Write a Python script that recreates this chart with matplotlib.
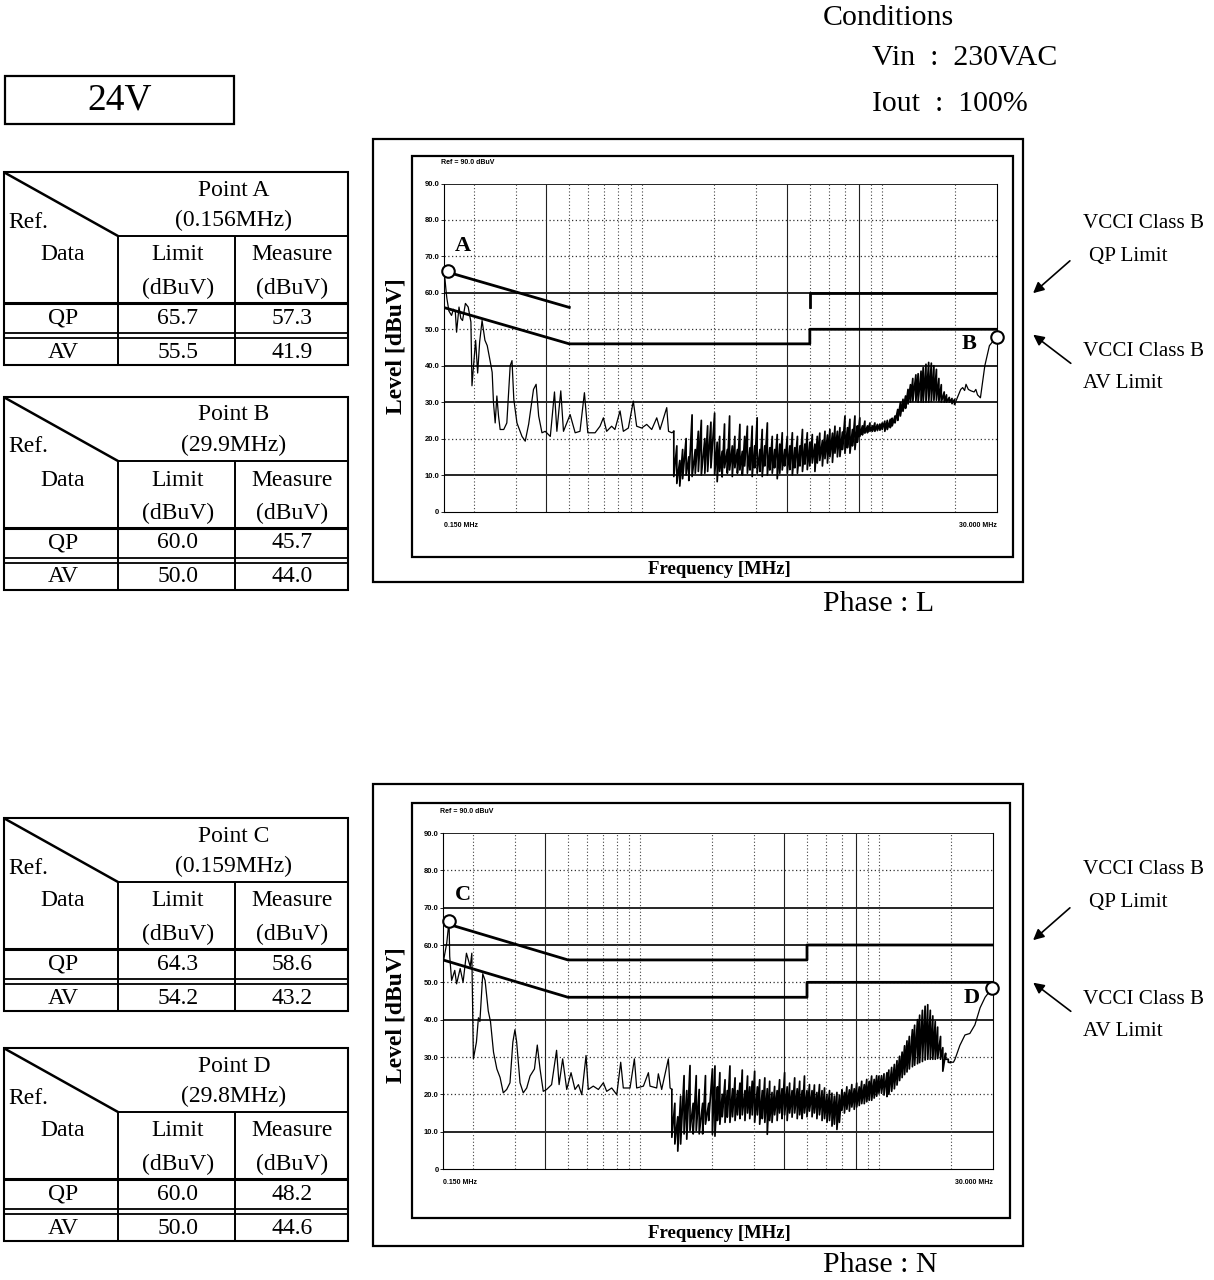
import numpy as np
import matplotlib
matplotlib.use("Agg")
import matplotlib.pyplot as plt
from matplotlib.patches import Rectangle, FancyArrowPatch
from matplotlib.ticker import NullLocator

# ---------------------------------------------------------------------------
# Conducted emission sweeps, 24V output, Vin 230VAC, Iout 100 %
# frequencies in MHz, levels in dBuV
# ---------------------------------------------------------------------------

# Phase L : low band (single sweep line)
L_LOW_F = [0.150, 0.152, 0.154, 0.155, 0.158, 0.162, 0.165, 0.168, 0.170, 0.174,
           0.177, 0.180, 0.185, 0.190, 0.195, 0.197, 0.200, 0.204, 0.208, 0.212,
           0.217, 0.223, 0.228, 0.235, 0.239, 0.242, 0.246, 0.250, 0.254, 0.258,
           0.267, 0.275, 0.284, 0.289, 0.294, 0.303, 0.318, 0.328, 0.339, 0.355,
           0.364, 0.373, 0.385, 0.397, 0.417, 0.434, 0.444, 0.461, 0.473, 0.504,
           0.529, 0.554, 0.578, 0.597, 0.640, 0.671, 0.693, 0.715, 0.750, 0.774,
           0.813, 0.839, 0.880, 0.923, 0.953, 1.000, 1.049, 1.101, 1.155, 1.192,
           1.271, 1.293, 1.335]
L_LOW_V = [58.0, 64.0, 60.0, 58.4, 55.0, 53.8, 55.5, 54.7, 49.2, 56.1,
           53.0, 52.4, 57.1, 56.1, 52.0, 34.5, 40.0, 47.0, 38.0, 46.5,
           52.4, 47.0, 45.5, 40.9, 38.2, 29.9, 24.3, 31.7, 26.2, 22.5,
           22.5, 24.3, 40.0, 41.4, 30.8, 24.3, 20.6, 19.3, 24.0, 33.5,
           34.9, 26.2, 21.6, 22.0, 20.6, 32.8, 22.0, 33.1, 22.0, 26.6,
           21.6, 22.0, 32.6, 21.6, 21.6, 23.4, 25.7, 22.0, 23.4, 22.5,
           27.6, 22.0, 22.9, 30.3, 23.4, 22.9, 23.9, 22.5, 25.7, 22.5,
           28.5, 22.0, 21.6]

# Shared frequency grid of the dense (broadband) part of both sweeps
NOISE_F = [1.36, 1.40, 1.44, 1.48, 1.53, 1.57, 1.62, 1.67, 1.72, 1.77,
           1.83, 1.88, 1.94, 2.01, 2.06, 2.11, 2.16, 2.21, 2.27, 2.32,
           2.38, 2.44, 2.50, 2.56, 2.62, 2.68, 2.75, 2.82, 2.88, 2.95,
           3.02, 3.10, 3.17, 3.25, 3.33, 3.41, 3.49, 3.57, 3.66, 3.75,
           3.84, 3.93, 4.03, 4.13, 4.23, 4.33, 4.44, 4.55, 4.66, 4.77,
           4.88, 5.00, 5.12, 5.25, 5.37, 5.50, 5.64, 5.78, 5.92, 6.06,
           6.21, 6.36, 6.51, 6.67, 6.83, 7.00, 7.17, 7.34, 7.52, 7.70,
           7.88, 8.07, 8.27, 8.47, 8.68, 8.89, 9.10, 9.32, 9.55, 9.78,
           10.0, 10.25, 10.5, 10.8, 11.0, 11.3, 11.6, 11.9, 12.2, 12.5,
           12.8, 13.1, 13.4, 13.8, 14.1, 14.5, 14.8, 15.2, 15.6, 16.0,
           16.4, 16.8, 17.2, 17.6, 18.1, 18.5, 19.0, 19.5, 20.0]

# Phase L : upper / lower excursion of the sweep on NOISE_F
L_NOISE_HI = [22.0, 18.0, 14.0, 17.0, 20.0, 15.0, 26.5, 17.0, 22.0, 25.0,
              20.0, 23.5, 24.5, 27.0, 19.0, 20.6, 16.5, 24.0, 17.0, 26.2,
              18.0, 20.6, 17.0, 23.9, 16.5, 20.6, 23.4, 17.5, 23.4, 18.0,
              25.7, 17.0, 22.5, 18.0, 24.3, 17.5, 20.6, 17.0, 21.1, 18.5,
              21.6, 17.0, 20.6, 18.0, 21.6, 17.5, 20.6, 18.0, 22.5, 18.5,
              21.6, 19.0, 21.1, 18.5, 20.6, 21.5, 19.5, 22.0, 21.0, 22.5,
              21.5, 23.4, 22.0, 23.0, 21.8, 26.2, 23.0, 25.3, 22.5, 26.2,
              23.5, 25.7, 23.5, 24.8, 23.5, 24.3, 23.5, 24.3, 23.9, 24.0,
              24.3, 24.8, 25.0, 25.3, 25.6, 26.2, 28.0, 29.9, 30.8, 31.7,
              33.5, 34.8, 36.5, 37.5, 37.8, 38.5, 39.5, 40.4, 40.9, 40.7,
              40.0, 39.0, 36.5, 34.8, 32.8, 32.0, 31.3, 31.0, 30.8]
L_NOISE_LO = [9.6, 7.7, 7.0, 9.0, 10.0, 8.5, 9.6, 10.5, 11.0, 10.0,
              10.5, 11.0, 12.0, 10.0, 8.2, 11.0, 9.5, 12.0, 10.5, 11.4,
              9.6, 12.0, 10.5, 11.4, 10.0, 12.5, 10.5, 11.4, 9.6, 12.0,
              10.5, 11.0, 9.6, 12.5, 10.0, 11.4, 10.5, 12.0, 9.0, 10.5,
              11.4, 12.5, 10.5, 11.5, 10.0, 12.0, 10.5, 12.5, 11.0, 13.0,
              11.5, 12.5, 13.3, 11.0, 13.3, 14.0, 12.5, 14.5, 13.3, 15.0,
              13.5, 16.0, 15.0, 15.1, 17.0, 16.0, 17.5, 16.0, 18.0, 17.0,
              19.0, 20.6, 21.0, 21.5, 21.6, 22.0, 22.0, 22.0, 22.2, 22.3,
              22.5, 22.0, 22.5, 23.0, 23.5, 24.3, 25.0, 26.2, 27.5, 28.3,
              29.5, 30.0, 30.2, 30.3, 30.0, 30.0, 30.0, 30.0, 30.0, 30.2,
              30.5, 30.5, 30.2, 30.0, 30.0, 30.0, 30.0, 29.6, 29.4]

# Phase L : top of the band up to 30 MHz
L_TAIL_F = [20.6, 21.2, 21.6, 22.0, 22.3, 22.8, 23.4, 24.1, 24.5, 24.9, 25.6, 26.7, 27.9, 29.9]
L_TAIL_V = [31.5, 33.5, 34.0, 33.2, 34.9, 33.5, 33.1, 32.8, 33.5, 32.0, 31.2, 40.0, 45.5, 48.0]

# Phase N : low band (single sweep line)
N_LOW_F = [0.150, 0.1555, 0.159, 0.160, 0.163, 0.168, 0.171, 0.177, 0.182, 0.188,
           0.195, 0.198, 0.201, 0.207, 0.211, 0.214, 0.220, 0.225, 0.232, 0.237,
           0.244, 0.252, 0.260, 0.268, 0.277, 0.286, 0.294, 0.300, 0.305, 0.315,
           0.325, 0.336, 0.347, 0.362, 0.372, 0.382, 0.394, 0.407, 0.427, 0.448,
           0.459, 0.475, 0.494, 0.515, 0.535, 0.553, 0.571, 0.595, 0.608, 0.638,
           0.670, 0.703, 0.726, 0.762, 0.800, 0.831, 0.852, 0.909, 0.948, 0.969,
           1.034, 1.085, 1.102, 1.175, 1.194, 1.233, 1.315, 1.337]
N_LOW_V = [55.0, 60.5, 66.4, 57.0, 50.5, 53.2, 49.6, 53.7, 50.0, 57.8,
           54.2, 57.8, 29.5, 34.0, 40.5, 39.5, 52.3, 50.5, 42.3, 39.5,
           31.3, 26.8, 24.5, 20.4, 21.3, 23.1, 34.0, 37.3, 34.0, 23.1,
           20.4, 21.7, 24.9, 26.8, 33.2, 26.8, 20.8, 21.3, 22.6, 31.8,
           22.6, 29.5, 21.3, 25.8, 21.3, 22.6, 19.9, 30.4, 21.3, 22.2,
           21.3, 23.1, 20.8, 21.7, 19.9, 28.6, 21.7, 21.7, 29.5, 21.7,
           22.2, 25.8, 22.2, 21.7, 25.5, 21.3, 29.5, 21.7]

# Phase N : upper / lower excursion of the sweep on NOISE_F
N_NOISE_HI = [21.3, 17.6, 14.0, 19.5, 25.0, 21.0, 27.7, 17.6, 25.0, 21.3,
              17.6, 25.0, 17.6, 26.8, 27.6, 22.0, 25.8, 20.0, 23.9, 21.0,
              27.6, 21.5, 24.4, 21.0, 23.0, 26.5, 21.0, 24.9, 22.0, 23.5,
              26.2, 22.0, 23.9, 21.0, 24.4, 21.5, 23.5, 20.5, 22.1, 21.0,
              23.9, 21.5, 25.8, 22.0, 23.0, 21.0, 24.4, 21.5, 23.5, 21.0,
              24.9, 21.0, 22.6, 21.0, 22.5, 20.5, 22.6, 21.0, 21.7, 20.0,
              21.0, 20.3, 19.5, 20.5, 19.8, 21.2, 20.5, 22.0, 21.2, 22.6,
              21.5, 23.0, 22.0, 23.5, 22.6, 24.0, 23.5, 24.9, 24.0, 25.0,
              24.9, 25.0, 25.5, 25.8, 26.5, 27.2, 28.0, 29.0, 30.2, 31.3,
              33.0, 34.3, 35.5, 37.3, 38.5, 40.0, 41.2, 42.5, 43.6, 44.0,
              42.5, 41.0, 39.5, 38.0, 35.5, 32.5, 31.0, 29.4, 28.5]
N_NOISE_LO = [8.5, 6.7, 4.8, 6.7, 9.4, 8.0, 10.3, 9.4, 10.3, 9.4,
              9.4, 12.0, 13.0, 9.3, 8.8, 13.0, 12.0, 14.0, 12.5, 13.9,
              12.5, 14.0, 13.0, 14.5, 13.5, 14.5, 13.0, 15.0, 13.5, 14.5,
              12.5, 14.5, 12.0, 13.5, 12.5, 9.3, 13.0, 12.5, 14.5, 13.0,
              15.0, 13.5, 14.5, 13.0, 15.0, 13.9, 15.0, 13.5, 14.5, 13.5,
              15.0, 14.0, 15.5, 14.0, 15.0, 13.5, 14.5, 13.0, 13.5, 12.5,
              13.0, 11.5, 12.0, 10.6, 12.5, 15.7, 15.0, 16.0, 15.5, 16.6,
              16.0, 16.6, 17.0, 17.5, 17.5, 18.0, 18.4, 18.4, 19.0, 19.5,
              20.3, 20.3, 19.8, 19.4, 20.0, 20.8, 21.5, 22.5, 23.7, 24.5,
              25.3, 26.0, 26.8, 27.4, 27.8, 28.2, 28.5, 28.8, 29.2, 29.4,
              29.4, 29.4, 29.4, 29.6, 29.4, 26.2, 29.4, 28.6, 28.6]

# Phase N : top of the band up to 30 MHz
N_TAIL_F = [20.5, 20.8, 21.8, 22.9, 24.0, 25.2, 26.5, 27.8, 29.8]
N_TAIL_V = [28.6, 29.4, 33.1, 35.9, 36.3, 38.6, 43.2, 46.0, 48.5]

# VCCI Class B limits
QP_LIMIT_F = [0.15, 0.50, 5.0, 5.0, 30.0]
QP_LIMIT_V = [66.0, 56.0, 56.0, 60.0, 60.0]
AV_LIMIT_F = [0.15, 0.50, 5.0, 5.0, 30.0]
AV_LIMIT_V = [56.0, 46.0, 46.0, 50.0, 50.0]

# Marked points
L_MARK_NAMES = ["A", "B"]
L_MARK_F = [0.156, 29.9]
L_MARK_V = [66.0, 48.0]
N_MARK_NAMES = ["C", "D"]
N_MARK_F = [0.159, 29.8]
N_MARK_V = [66.4, 48.5]

# Result tables
POINT_NAMES = ["Point A", "Point B", "Point C", "Point D"]
POINT_FREQS = ["(0.156MHz)", "(29.9MHz)", "(0.159MHz)", "(29.8MHz)"]
QP_LIMIT_TAB = ["65.7", "60.0", "64.3", "60.0"]
QP_MEAS_TAB = ["57.3", "45.7", "58.6", "48.2"]
AV_LIMIT_TAB = ["55.5", "50.0", "54.2", "50.0"]
AV_MEAS_TAB = ["41.9", "44.0", "43.2", "44.6"]

Y_TICKS = [0, 10, 20, 30, 40, 50, 60, 70, 80, 90]
Y_TICK_LABELS = ["0", "10.0", "20.0", "30.0", "40.0", "50.0", "60.0", "70.0", "80.0", "90.0"]
GRID_F = [0.2, 0.3, 0.4, 0.5, 0.6, 0.7, 0.8, 0.9, 1.0, 2.0, 3.0, 4.0, 5.0,
          6.0, 7.0, 8.0, 9.0, 10.0, 20.0]

for a, b in [(L_LOW_F, L_LOW_V), (N_LOW_F, N_LOW_V), (NOISE_F, L_NOISE_HI),
             (NOISE_F, L_NOISE_LO), (NOISE_F, N_NOISE_HI), (NOISE_F, N_NOISE_LO),
             (L_TAIL_F, L_TAIL_V), (N_TAIL_F, N_TAIL_V)]:
    assert len(a) == len(b)

# ---------------------------------------------------------------------------
W, H = 1214, 1280
SERIF = "Liberation Serif"
SANS = "Liberation Sans"

fig = plt.figure(figsize=(W / 100, H / 100), dpi=100)
fig.patch.set_facecolor("white")
canvas = fig.add_axes([0, 0, 1, 1])
canvas.set_xlim(0, W)
canvas.set_ylim(H, 0)
canvas.axis("off")


def seg(x0, y0, x1, y1, lw=1.4):
    canvas.plot([x0, x1], [y0, y1], color="black", lw=lw, solid_capstyle="butt")


def box(x0, y0, x1, y1, lw=1.5):
    canvas.add_patch(Rectangle((x0, y0), x1 - x0, y1 - y0, fill=False,
                               ec="black", lw=lw))


def txt(x, y, s, size, ha="center", weight="normal", rot=0, family=SERIF):
    canvas.text(x, y, s, fontsize=size, ha=ha, va="center", fontweight=weight,
                rotation=rot, family=family, color="black")


def axes_px(x0, y0, x1, y1):
    return fig.add_axes([x0 / W, 1 - y1 / H, (x1 - x0) / W, (y1 - y0) / H])


def draw_chart(rect, outer, inner, solid_levels, solid_freqs, sweep, marks,
               label_offsets, qp_full, level_y, freq_y, tick_y):
    box(*outer, lw=1.6)
    box(*inner, lw=1.6)
    txt(396, level_y, "Level [dBuV]", 17, weight="bold", rot=90)
    txt(719, freq_y, "Frequency [MHz]", 13.5, weight="bold")

    ax = axes_px(*rect)
    ax.patch.set_alpha(0)
    ax.set_xscale("log")
    ax.set_xlim(0.15, 30)
    ax.set_ylim(0, 90)
    ax.xaxis.set_major_locator(NullLocator())
    ax.xaxis.set_minor_locator(NullLocator())
    ax.set_yticks(Y_TICKS)
    ax.set_yticklabels(Y_TICK_LABELS, fontsize=5.5, fontweight="bold", family=SANS)
    ax.tick_params(axis="y", length=2, width=0.6, pad=1)
    ax.spines["top"].set_visible(False)
    for s in ["left", "right", "bottom"]:
        ax.spines[s].set_linewidth(0.8)
    ax.spines["left"].set_linestyle((0, (1, 1)))

    for lev in Y_TICKS[1:]:
        if lev in solid_levels:
            ax.axhline(lev, color="black", lw=1.2, zorder=1)
        else:
            ax.axhline(lev, color="#333333", lw=0.9, ls=(0, (1, 2)), zorder=1)
    for f in GRID_F:
        if f in solid_freqs:
            ax.axvline(f, color="#222222", lw=0.8, zorder=1)
        else:
            ax.axvline(f, color="#444444", lw=0.8, ls=(0, (1, 2)), zorder=1)

    if qp_full:
        ax.plot(QP_LIMIT_F, QP_LIMIT_V, color="black", lw=2.0, zorder=3)
    else:
        ax.plot(QP_LIMIT_F[:2], QP_LIMIT_V[:2], color="black", lw=2.0, zorder=3)
        ax.plot(QP_LIMIT_F[2:], QP_LIMIT_V[2:], color="black", lw=2.0, zorder=3)
    ax.plot(AV_LIMIT_F, AV_LIMIT_V, color="black", lw=2.0, zorder=3)

    # sweep: low band line, dense broadband part, top of band
    low_f, low_v, hi, lo, tail_f, tail_v = sweep
    fz = np.repeat(np.asarray(NOISE_F), 2)
    vz = np.column_stack([hi, lo]).ravel()
    ax.plot(np.r_[low_f, fz[:1]], np.r_[low_v, vz[:1]], color="black", lw=0.9, zorder=4)
    ax.plot(fz, vz, color="black", lw=1.25, zorder=4)
    ax.plot(np.r_[fz[-1:], tail_f], np.r_[vz[-1:], tail_v], color="black", lw=0.9, zorder=4)

    names, mf, mv = marks
    ax.plot(mf, mv, "o", ms=9, mfc="white", mec="black", mew=1.5,
            clip_on=False, zorder=6)
    for n, x, y, off in zip(names, mf, mv, label_offsets):
        ax.annotate(n, (x, y), xytext=off, textcoords="offset points",
                    ha="center", va="center", fontsize=16, fontweight="bold",
                    family=SERIF, zorder=7)

    ax.text(0.0, tick_y, "0.150 MHz", transform=ax.transAxes, ha="left",
            va="center", fontsize=5, fontweight="bold", family=SANS)
    ax.text(1.0, tick_y, "30.000 MHz", transform=ax.transAxes, ha="right",
            va="center", fontsize=5, fontweight="bold", family=SANS)
    ax.text(-0.005, 1.063, "Ref = 90.0 dBuV", transform=ax.transAxes, ha="left",
            va="center", fontsize=5, fontweight="bold", family=SANS)
    return ax


def draw_table(top, i):
    x0, xa, xb, x1 = 3.5, 118, 235, 348
    box(x0, top, x1, top + 193, lw=1.5)
    seg(x0, top, xa, top + 64, lw=1.8)
    seg(xa, top + 64, x1, top + 64)
    seg(xa, top + 64, xa, top + 193)
    seg(xb, top + 64, xb, top + 193)
    seg(x0, top + 131, x1, top + 131, lw=2.2)
    seg(x0, top + 161, x1, top + 161, lw=1.3)
    seg(x0, top + 166, x1, top + 166, lw=1.3)
    fs = 17
    txt(234, top + 18, POINT_NAMES[i], fs)
    txt(234, top + 48, POINT_FREQS[i], fs)
    txt(8, top + 50, "Ref.", fs, ha="left")
    txt(63, top + 83, "Data", fs)
    txt(178, top + 83, "Limit", fs)
    txt(292, top + 83, "Measure", fs)
    txt(178, top + 116, "(dBuV)", fs)
    txt(292, top + 116, "(dBuV)", fs)
    txt(63, top + 146, "QP", fs)
    txt(178, top + 146, QP_LIMIT_TAB[i], fs)
    txt(292, top + 146, QP_MEAS_TAB[i], fs)
    txt(63, top + 180, "AV", fs)
    txt(178, top + 180, AV_LIMIT_TAB[i], fs)
    txt(292, top + 180, AV_MEAS_TAB[i], fs)


def arrow(tail, head):
    canvas.add_patch(FancyArrowPatch(tail, head, arrowstyle="-|>",
                                     mutation_scale=16, lw=1.2, color="black"))


def limit_notes(y_qp, y_av):
    txt(1083, y_qp, "VCCI Class B", 15.2, ha="left")
    txt(1089, y_qp + 33, "QP Limit", 15.2, ha="left")
    arrow((1072, y_qp + 36), (1031, y_qp + 72))
    txt(1083, y_av, "VCCI Class B", 15.2, ha="left")
    txt(1083, y_av + 32, "AV Limit", 15.2, ha="left")
    arrow((1073, y_av + 13), (1031, y_av - 19))


# header
box(4.5, 76, 234, 124, lw=1.6)
txt(120, 100, "24V", 27)
txt(823, 18, "Conditions", 21.5, ha="left")
txt(872, 58, "Vin  :  230VAC", 21.5, ha="left")
txt(872, 104, "Iout  :  100%", 21.5, ha="left")

# tables
for top, i in [(172, 0), (397, 1), (818, 2), (1048, 3)]:
    draw_table(top, i)

# phase L chart
draw_chart(rect=(443.5, 183.5, 997, 511.5),
           outer=(372.5, 139, 1023, 582),
           inner=(411.5, 156, 1013, 557),
           solid_levels={90, 60, 40, 30, 10},
           solid_freqs={0.4, 4.0, 8.0},
           sweep=(L_LOW_F, L_LOW_V, L_NOISE_HI, L_NOISE_LO, L_TAIL_F, L_TAIL_V),
           marks=(L_MARK_NAMES, L_MARK_F, L_MARK_V),
           label_offsets=[(11, 18), (-20, -5)],
           qp_full=False, level_y=346, freq_y=569, tick_y=-0.044)
txt(823, 604, "Phase : L", 21.5, ha="left")
limit_notes(223, 352)

# phase N chart
draw_chart(rect=(443, 833, 993, 1169),
           outer=(372.5, 784, 1023, 1246),
           inner=(411.5, 803, 1010, 1218),
           solid_levels={90, 70, 60, 40, 10},
           solid_freqs={0.4, 4.0, 8.0},
           sweep=(N_LOW_F, N_LOW_V, N_NOISE_HI, N_NOISE_LO, N_TAIL_F, N_TAIL_V),
           marks=(N_MARK_NAMES, N_MARK_F, N_MARK_V),
           label_offsets=[(10, 19), (-15, -7)],
           qp_full=True, level_y=1015, freq_y=1234, tick_y=-0.039)
txt(823, 1265, "Phase : N", 21.5, ha="left")
limit_notes(870, 1000)

fig.savefig("out.png", dpi=100, facecolor="white")
